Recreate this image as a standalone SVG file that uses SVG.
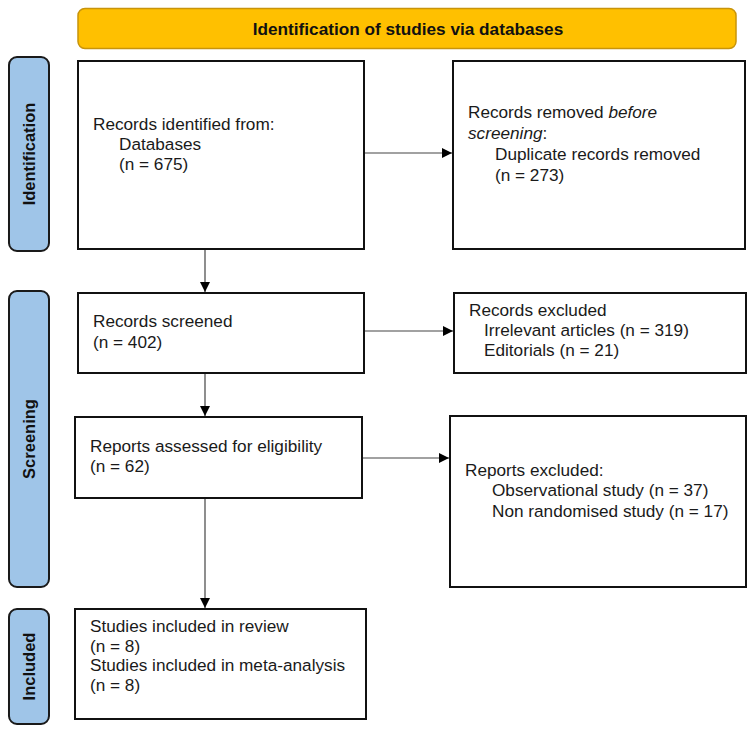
<svg xmlns="http://www.w3.org/2000/svg" width="750" height="733" viewBox="0 0 750 733">
<defs>
<style>
.box{fill:#fff;stroke:#111;stroke-width:2}
.side{fill:#9FC5E8;stroke:#1a1a1a;stroke-width:2}
.t{font-family:"Liberation Sans",Arial,sans-serif;font-size:17.2px;fill:#1a1a1a}
.sl{font-family:"Liberation Sans",Arial,sans-serif;font-size:16.5px;font-weight:bold;fill:#111}
.ln{stroke:#444;stroke-width:1.2;fill:none}
</style>
<marker id="ah" viewBox="0 0 10 10" refX="10" refY="5" markerWidth="10" markerHeight="10" markerUnits="userSpaceOnUse" orient="auto">
<path d="M0,0 L10,5 L0,10 Z" fill="#000"/>
</marker>
</defs>
<rect width="750" height="733" fill="#fff"/>

<g id="banner">
<rect x="78" y="8.5" width="658" height="40" rx="7" fill="#FFC000" stroke="#C8940A" stroke-width="1.5"/>
<text x="408" y="34.5" text-anchor="middle" font-family="Liberation Sans,Arial,sans-serif" font-size="17.2" font-weight="bold" fill="#111">Identification of studies via databases</text>
</g>

<g id="label-identification">
<rect class="side" x="9" y="57" width="40" height="194" rx="8"/>
<text class="sl" transform="translate(35,154) rotate(-90)" text-anchor="middle">Identification</text>
</g>
<g id="label-screening">
<rect class="side" x="9" y="291" width="40" height="296" rx="8"/>
<text class="sl" transform="translate(35,439) rotate(-90)" text-anchor="middle">Screening</text>
</g>
<g id="label-included">
<rect class="side" x="9" y="609" width="40" height="115" rx="8"/>
<text class="sl" transform="translate(35,666.5) rotate(-90)" text-anchor="middle">Included</text>
</g>

<g id="records-identified">
<rect class="box" x="78" y="61" width="286" height="188"/>
<text class="t" x="93" y="130">Records identified from:</text>
<text class="t" x="119" y="150">Databases</text>
<text class="t" x="119" y="170">(n = 675)</text>
</g>

<g id="records-removed">
<rect class="box" x="453" y="61" width="292" height="188"/>
<text class="t" x="468" y="118">Records removed <tspan font-style="italic">before</tspan></text>
<text class="t" x="468" y="139"><tspan font-style="italic">screening</tspan>:</text>
<text class="t" x="495" y="160">Duplicate records removed</text>
<text class="t" x="495" y="181">(n = 273)</text>
</g>

<g id="records-screened">
<rect class="box" x="78" y="293" width="286" height="80"/>
<text class="t" x="93" y="327">Records screened</text>
<text class="t" x="93" y="348">(n = 402)</text>
</g>

<g id="records-excluded">
<rect class="box" x="454" y="293" width="292" height="80"/>
<text class="t" x="469" y="316">Records excluded</text>
<text class="t" x="484" y="336">Irrelevant articles (n = 319)</text>
<text class="t" x="484" y="356">Editorials (n = 21)</text>
</g>

<g id="reports-assessed">
<rect class="box" x="75" y="417" width="287" height="81"/>
<text class="t" x="90" y="452">Reports assessed for eligibility</text>
<text class="t" x="90" y="472">(n = 62)</text>
</g>

<g id="reports-excluded">
<rect class="box" x="450" y="416" width="296" height="171"/>
<text class="t" x="465" y="476">Reports excluded:</text>
<text class="t" x="492" y="496">Observational study (n = 37)</text>
<text class="t" x="492" y="517">Non randomised study (n = 17)</text>
</g>

<g id="studies-included">
<rect class="box" x="75" y="609" width="291" height="110"/>
<text class="t" x="90" y="632">Studies included in review</text>
<text class="t" x="90" y="651.5">(n = 8)</text>
<text class="t" x="90" y="671">Studies included in meta-analysis</text>
<text class="t" x="90" y="690.5">(n = 8)</text>
</g>

<g id="connectors">
<line class="ln" x1="365" y1="153" x2="452" y2="153" marker-end="url(#ah)"/>
<line class="ln" x1="205" y1="250" x2="205" y2="292" marker-end="url(#ah)"/>
<line class="ln" x1="365" y1="331" x2="453" y2="331" marker-end="url(#ah)"/>
<line class="ln" x1="205" y1="374" x2="205" y2="416" marker-end="url(#ah)"/>
<line class="ln" x1="363" y1="458" x2="449" y2="458" marker-end="url(#ah)"/>
<line class="ln" x1="205" y1="499" x2="205" y2="608" marker-end="url(#ah)"/>
</g>
</svg>
